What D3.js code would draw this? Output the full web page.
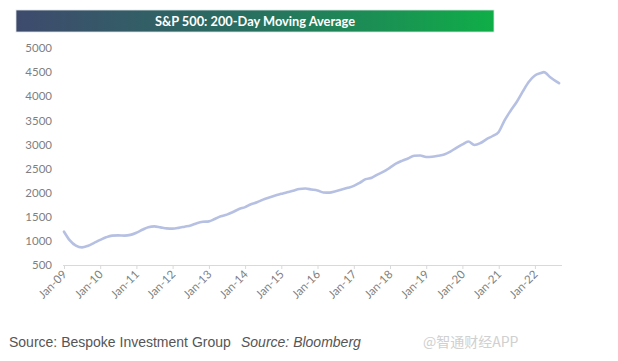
<!DOCTYPE html>
<html>
<head>
  <meta charset="utf-8">
  <script src="https://d3js.org/d3.v7.min.js"></script>
  <style>
    body { margin: 0; background: #fff; }
    .tick text { font-family: Lato, "Open Sans", sans-serif; fill: #7f7f7f; }
  </style>
</head>
<body>
<script>
// 200-day moving average (roughly every two months)
var months = ["2009-01","2009-03","2009-05","2009-07","2009-09","2009-11",
  "2010-01","2010-03","2010-05","2010-07","2010-09","2010-11",
  "2011-01","2011-03","2011-05","2011-07","2011-09","2011-11",
  "2012-01","2012-03","2012-05","2012-07","2012-09","2012-11",
  "2013-01","2013-03","2013-05","2013-07","2013-09","2013-11",
  "2014-01","2014-03","2014-05","2014-07","2014-09","2014-11",
  "2015-01","2015-03","2015-05","2015-07","2015-09","2015-11",
  "2016-01","2016-03","2016-05","2016-07","2016-09","2016-11",
  "2017-01","2017-03","2017-05","2017-07","2017-09","2017-11",
  "2018-01","2018-03","2018-05","2018-07","2018-09","2018-11",
  "2019-01","2019-03","2019-05","2019-07","2019-09","2019-11",
  "2020-01","2020-03","2020-05","2020-07","2020-09","2020-11",
  "2021-01","2021-03","2021-05","2021-07","2021-09","2021-11",
  "2022-01","2022-03","2022-04","2022-06","2022-09"];
var values = [1190,1010,900,865,900,960,
  1020,1075,1110,1115,1110,1125,
  1170,1230,1285,1300,1280,1260,
  1255,1270,1295,1320,1365,1395,
  1405,1455,1510,1545,1600,1660,
  1700,1760,1800,1855,1900,1940,
  1975,2010,2040,2075,2085,2065,
  2045,2005,2000,2030,2065,2100,
  2140,2205,2280,2310,2380,2440,
  2520,2600,2660,2710,2765,2770,
  2740,2745,2765,2790,2850,2930,
  3000,3060,2990,3030,3110,3175,
  3260,3500,3700,3880,4100,4300,
  4430,4480,4500,4400,4270];
var yTicks = [500,1000,1500,2000,2500,3000,3500,4000,4500,5000];
var xTickYears = d3.range(2009, 2023);

var width = 618, height = 361;
var svg = d3.select("body").append("svg")
  .attr("width", width).attr("height", height);

// title bar with gradient
var grad = svg.append("defs").append("linearGradient").attr("id", "tg");
grad.append("stop").attr("offset", "0%").attr("stop-color", "#3e4a6d");
grad.append("stop").attr("offset", "50%").attr("stop-color", "#287060");
grad.append("stop").attr("offset", "100%").attr("stop-color", "#0fae48");
svg.append("rect").attr("x", 16).attr("y", 10).attr("width", 478).attr("height", 22)
  .attr("fill", "url(#tg)").attr("stroke", "#dfe6e6").attr("stroke-width", 0.8);
svg.append("text").attr("x", 255).attr("y", 26).attr("text-anchor", "middle")
  .style("font-family", "Lato, 'Open Sans', sans-serif").style("font-weight", "bold")
  .style("font-size", "12.8px").attr("fill", "#fff")
  .text("S&P 500: 200-Day Moving Average");

var parse = d3.timeParse("%Y-%m");
var data = months.map(function(m, i) { return { date: parse(m), value: values[i] }; });

var x = d3.scaleTime()
  .domain([new Date(2009, 0, 1), new Date(2022, 9, 1)])
  .range([64, 562]);
var y = d3.scaleLinear().domain([500, 5000]).range([265, 48]);

// y axis (no line, labels only)
var yAxis = svg.append("g").attr("transform", "translate(52,0)")
  .call(d3.axisLeft(y).tickValues(yTicks).tickFormat(d3.format("d")).tickSize(0).tickPadding(0));
yAxis.select(".domain").remove();
yAxis.selectAll("text").style("font-size", "11.5px");

// x axis
var xAxis = svg.append("g").attr("transform", "translate(0,265)")
  .call(d3.axisBottom(x)
    .tickValues(xTickYears.map(function(yr) { return new Date(yr, 0, 1); }))
    .tickFormat(d3.timeFormat("Jan-%y"))
    .tickSize(4).tickSizeOuter(0));
xAxis.select(".domain").attr("stroke", "#d9d9d9").attr("d", "M63,0.5H562");
xAxis.selectAll(".tick line").attr("stroke", "#d9d9d9");
xAxis.selectAll("text")
  .style("font-size", "11.5px")
  .attr("text-anchor", "end")
  .attr("dy", null).attr("y", 0)
  .attr("transform", "translate(3,10) rotate(-45)");

// the line
var line = d3.line().x(function(d) { return x(d.date); }).y(function(d) { return y(d.value); })
  .curve(d3.curveMonotoneX);
svg.append("path").datum(data)
  .attr("d", line).attr("fill", "none")
  .attr("stroke", "#b6c0e2").attr("stroke-width", 2.6)
  .attr("stroke-linejoin", "round").attr("stroke-linecap", "round");

// footer
var foot = svg.append("text").attr("x", 9).attr("y", 347)
  .style("font-family", "'Liberation Sans', Arial, sans-serif").style("font-size", "14px")
  .attr("fill", "#555");
foot.append("tspan").text("Source: Bespoke Investment Group");
foot.append("tspan").attr("x", 241).style("font-style", "italic").text("Source: Bloomberg");

svg.append("text").attr("x", 423).attr("y", 347)
  .style("font-family", "'Noto Sans CJK SC', sans-serif").style("font-size", "14px")
  .attr("fill", "#d0d0d0").text("@智通财经APP");
</script>
</body>
</html>
